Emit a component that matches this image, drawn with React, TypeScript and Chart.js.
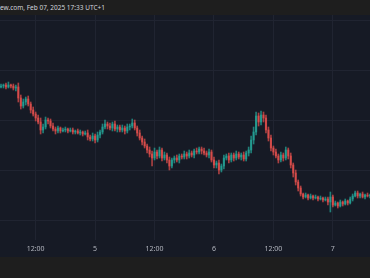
import React, { useEffect, useRef } from "react";
import { Chart, registerables } from "chart.js";

Chart.register(...registerables);

const headerText = "ew.com, Feb 07, 2025 17:33 UTC+1";

// 30-minute candles, hours counted from Feb 4 00:00
const startHour = 5;
const stepHours = 0.5;
const firstOpen = 153;

const closes = [
  154, 155, 153, 155, 154, 152, 153, 142, 134, 138,
  141, 136, 130, 126, 122, 118, 110, 113, 120, 119,
  114, 111, 109, 112, 109, 110, 111, 109, 110, 108,
  109, 107, 108, 106, 107, 103, 101, 104, 100, 105,
  108, 113, 116, 114, 112, 116, 111, 113, 110, 112,
  109, 113, 114, 117, 112, 107, 102, 98, 94, 90,
  86, 82, 88, 84, 90, 82, 85, 80, 74, 80,
  82, 80, 84, 83, 86, 84, 87, 85, 89, 88,
  91, 89, 87, 85, 88, 80, 75, 77, 70, 74,
  82, 84, 80, 85, 82, 86, 83, 85, 81, 87,
  90, 100, 108, 124, 118, 125, 122, 110, 102, 92,
  88, 84, 80, 85, 82, 90, 84, 75, 67, 58,
  52, 46, 43, 45, 42, 44, 42, 43, 41, 42,
  40, 41, 38, 43, 35, 37, 34, 38, 36, 39,
  37, 41, 44, 47, 44, 46, 43, 45, 44, 45,
];

const wickUp = [
  2, 1, 2, 3, 1, 2, 2, 4, 3, 3,
  2, 3, 2, 3, 2, 3, 4, 3, 3, 2,
  2, 3, 2, 2, 1, 2, 2, 1, 2, 2,
  1, 2, 2, 1, 2, 3, 2, 3, 2, 3,
  2, 3, 4, 2, 3, 2, 3, 2, 2, 3,
  2, 3, 2, 4, 3, 2, 3, 2, 3, 2,
  3, 3, 4, 2, 3, 2, 3, 2, 3, 2,
  2, 3, 2, 2, 3, 2, 3, 2, 2, 3,
  2, 2, 3, 2, 3, 2, 3, 2, 3, 2,
  3, 2, 3, 2, 2, 3, 2, 2, 3, 2,
  3, 4, 5, 4, 3, 4, 3, 3, 3, 3,
  2, 3, 2, 3, 2, 3, 2, 3, 2, 3,
  2, 2, 1, 2, 1, 2, 1, 2, 1, 2,
  1, 2, 2, 5, 2, 2, 1, 2, 1, 2,
  1, 2, 2, 2, 2, 1, 2, 1, 2, 1,
];

const wickDown = [
  1, 2, 2, 1, 2, 2, 3, 4, 3, 2,
  3, 2, 3, 2, 3, 2, 4, 3, 2, 3,
  2, 2, 3, 2, 2, 1, 2, 2, 1, 2,
  2, 1, 2, 2, 1, 3, 2, 2, 3, 2,
  3, 2, 2, 3, 2, 3, 2, 3, 2, 2,
  3, 2, 3, 2, 2, 3, 2, 3, 2, 3,
  3, 8, 2, 3, 2, 3, 2, 3, 4, 2,
  3, 2, 3, 2, 2, 3, 2, 2, 3, 2,
  2, 3, 2, 2, 3, 2, 3, 3, 4, 2,
  3, 2, 3, 2, 3, 2, 2, 3, 2, 2,
  3, 3, 4, 3, 4, 3, 4, 3, 3, 3,
  3, 2, 3, 2, 3, 2, 3, 3, 4, 3,
  3, 2, 2, 1, 2, 1, 2, 1, 2, 1,
  2, 1, 3, 10, 2, 1, 2, 1, 2, 1,
  2, 1, 2, 1, 2, 2, 1, 2, 1, 2,
];

const tickHours = [12, 24, 36, 48, 60, 72];
const tickLabels = ["12:00", "5", "12:00", "6", "12:00", "7"];
const gridPrices = [20, 70, 120, 170, 220];

const UP = "rgba(38,166,154,0.72)";
const DOWN = "rgba(239,83,80,0.68)";

export default function App() {
  const ref = useRef<HTMLCanvasElement>(null);

  useEffect(() => {
    document.body.style.margin = "0";
    const opens = closes.map((c, i) => (i === 0 ? firstOpen : closes[i - 1]));
    const times = closes.map((_, i) => startHour + i * stepHours);
    const highs = closes.map((c, i) => Math.max(c, opens[i]) + wickUp[i]);
    const lows = closes.map((c, i) => Math.min(c, opens[i]) - wickDown[i]);
    const colors = closes.map((c, i) => (c >= opens[i] ? UP : DOWN));

    const chart = new Chart(ref.current!, {
      type: "bar",
      data: {
        datasets: [
          {
            data: times.map((t, i) => ({ x: t, y: [lows[i], highs[i]] })) as any,
            backgroundColor: colors,
            barThickness: 1,
            grouped: false,
            order: 2,
          } as any,
          {
            data: times.map((t, i) => ({ x: t, y: [opens[i], closes[i]] })) as any,
            backgroundColor: colors,
            barThickness: 1.5,
            minBarLength: 1,
            grouped: false,
            order: 1,
          } as any,
        ],
      },
      options: {
        responsive: false,
        animation: false,
        devicePixelRatio: 1,
        layout: { padding: 0 },
        plugins: { legend: { display: false }, tooltip: { enabled: false } },
        scales: {
          x: {
            type: "linear",
            min: 4.8,
            max: 79.5,
            offset: false,
            afterBuildTicks: (s: any) => {
              s.ticks = tickHours.map((v) => ({ value: v }));
            },
            afterFit: (s: any) => {
              s.height = 17;
            },
            ticks: {
              callback: (_v: any, i: number) => tickLabels[i],
              color: "#b2b5be",
              font: { family: "Noto Sans", size: 7 },
              padding: 5,
              maxRotation: 0,
              autoSkip: false,
            },
            grid: { color: "#202431", drawTicks: false, offset: false },
            border: { display: false },
          },
          y: {
            min: 0,
            max: 225,
            afterBuildTicks: (s: any) => {
              s.ticks = gridPrices.map((v) => ({ value: v }));
            },
            afterFit: (s: any) => {
              s.width = 0;
            },
            ticks: { display: false },
            grid: { color: "#202431", drawTicks: false },
            border: { display: false },
          },
        },
      } as any,
    });
    return () => chart.destroy();
  }, []);

  return (
    <div style={{ position: "relative", width: 370, height: 278, background: "#1e1e1e", overflow: "hidden" }}>
      <div
        style={{
          position: "absolute",
          left: 0,
          top: 0,
          height: 15,
          lineHeight: "15px",
          fontFamily: "Noto Sans, sans-serif",
          fontSize: 6.5,
          color: "#d1d4dc",
          whiteSpace: "nowrap",
        }}
      >
        {headerText}
      </div>
      <div style={{ position: "absolute", left: 0, top: 15, width: 370, height: 242, background: "#161a25" }}>
        <canvas ref={ref} width={370} height={242} style={{ display: "block" }} />
      </div>
    </div>
  );
}
